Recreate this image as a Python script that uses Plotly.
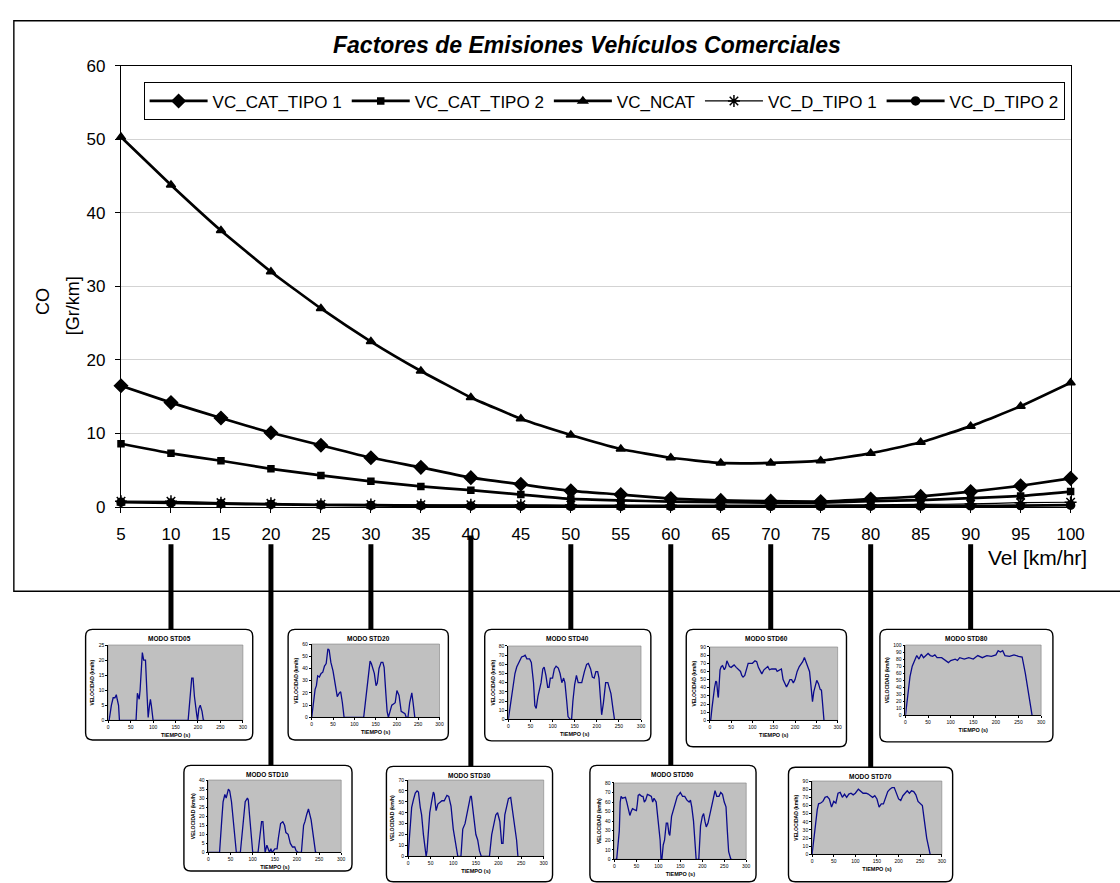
import plotly.graph_objects as go

# ---------------------------------------------------------------------------
# Emission factors (CO, g/km) by average speed
# ---------------------------------------------------------------------------
speeds = [5, 10, 15, 20, 25, 30, 35, 40, 45, 50, 55, 60, 65, 70, 75, 80, 85, 90, 95, 100]

vc_cat_tipo1 = [16.5, 14.2, 12.1, 10.1, 8.4, 6.7, 5.4, 4.0, 3.1, 2.2,
                1.7, 1.15, 0.9, 0.8, 0.75, 1.1, 1.45, 2.1, 2.9, 3.9]
vc_cat_tipo2 = [8.6, 7.3, 6.3, 5.2, 4.3, 3.5, 2.8, 2.3, 1.7, 1.1,
                0.9, 0.75, 0.65, 0.6, 0.6, 0.8, 0.95, 1.2, 1.5, 2.1]
vc_ncat = [50.3, 43.8, 37.6, 32.0, 27.0, 22.5, 18.5, 14.9, 12.0, 9.8,
           7.9, 6.7, 6.0, 6.0, 6.3, 7.3, 8.8, 11.0, 13.7, 16.9]
vc_d_tipo1 = [0.8, 0.78, 0.6, 0.5, 0.38, 0.35, 0.3, 0.3, 0.3, 0.27,
              0.25, 0.25, 0.25, 0.27, 0.28, 0.3, 0.35, 0.42, 0.6, 0.65]
vc_d_tipo2 = [0.65, 0.55, 0.45, 0.35, 0.28, 0.22, 0.18, 0.15, 0.12, 0.1,
              0.1, 0.1, 0.1, 0.1, 0.1, 0.12, 0.14, 0.16, 0.2, 0.25]

# ---------------------------------------------------------------------------
# Driving cycles (time s, speed km/h) for each test mode
# ---------------------------------------------------------------------------
std05 = [(0, 0), (2, 0), (7, 5), (11, 7.5), (15, 7.5), (18, 8.5), (20, 7), (23, 5), (25, 0),
         (62, 0), (65, 9), (69, 7), (71, 10), (73, 15), (76, 22.5), (79, 20), (83, 20), (86, 10),
         (89, 1), (92, 5), (94, 7), (96, 5), (100, 0),
         (178, 0), (181, 5), (183, 8), (186, 14), (189, 14), (192, 8), (197, 2), (199, 0),
         (202, 4), (205, 5), (209, 3), (212, 0), (215, 0)]
std10 = [(0, 0), (25, 0), (30, 18), (33, 28), (37, 32), (40, 30), (45, 35), (48, 34), (52, 28),
         (57, 15), (60, 5), (63, 0), (72, 0), (77, 12), (80, 18), (83, 28), (88, 30), (90, 29),
         (93, 20), (97, 5), (100, 0), (112, 0), (117, 12), (120, 17), (123, 17), (126, 5),
         (128, 0), (132, 4), (135, 2), (138, 0), (141, 2), (144, 0), (150, 2), (155, 2), (158, 8),
         (163, 16), (168, 17), (172, 15), (175, 11), (180, 10), (185, 5), (190, 3), (195, 3),
         (198, 1), (203, 0), (210, 0), (215, 15), (218, 17), (222, 21), (226, 24), (232, 18),
         (236, 10), (240, 3), (242, 0), (245, 0)]
std20 = [(0, 0), (4, 12), (8, 23), (11, 26), (14, 34), (18, 33), (22, 36), (26, 37), (30, 42),
         (34, 44), (38, 56), (41, 55), (45, 45), (50, 38), (54, 30), (60, 17), (65, 20), (68, 21),
         (72, 12), (76, 0), (122, 0), (127, 15), (132, 30), (137, 46), (140, 44), (144, 38),
         (147, 36), (151, 26), (154, 28), (158, 40), (163, 45), (167, 45), (170, 41), (174, 20),
         (177, 5), (180, 0), (184, 6), (188, 10), (192, 11), (196, 12), (200, 22), (205, 18),
         (210, 5), (215, 4), (219, 3), (222, 0), (226, 0), (230, 12), (235, 20), (238, 12),
         (242, 0)]
std30 = [(0, 0), (3, 20), (8, 45), (12, 52), (16, 58), (20, 60), (23, 59), (27, 45), (30, 38),
         (34, 20), (38, 5), (40, 0), (42, 5), (45, 20), (48, 40), (52, 50), (56, 59), (58, 57),
         (62, 42), (66, 48), (70, 49), (75, 51), (80, 51), (86, 56), (90, 55), (95, 46),
         (100, 25), (106, 10), (110, 0), (117, 0), (121, 25), (126, 30), (130, 38), (135, 48),
         (138, 55), (140, 55), (146, 30), (150, 20), (154, 15), (158, 5), (162, 0), (180, 0),
         (185, 20), (190, 32), (194, 38), (198, 40), (203, 32), (207, 12), (210, 12), (214, 38),
         (218, 45), (222, 53), (227, 54), (230, 45), (235, 30), (240, 15), (243, 0)]
std40 = [(0, 0), (3, 10), (7, 18), (11, 35), (15, 50), (19, 57), (22, 60), (26, 63), (30, 68),
         (35, 69), (38, 70), (42, 66), (48, 66), (52, 62), (57, 40), (60, 15), (63, 12), (67, 25),
         (71, 33), (74, 40), (78, 55), (81, 57), (85, 48), (89, 35), (92, 35), (95, 45),
         (100, 45), (104, 55), (108, 58), (113, 56), (117, 50), (121, 40), (125, 45), (128, 40),
         (132, 20), (135, 3), (140, 0), (143, 0), (146, 20), (150, 38), (154, 48), (158, 40),
         (162, 40), (166, 40), (172, 52), (177, 60), (181, 61), (186, 55), (190, 46), (194, 45),
         (198, 52), (202, 52), (205, 45), (208, 20), (211, 5), (215, 18), (220, 40), (225, 40),
         (230, 30), (232, 28), (237, 10), (240, 0)]
std50 = [(0, 0), (5, 0), (8, 15), (11, 30), (13, 60), (15, 66), (18, 64), (22, 65), (25, 65),
         (28, 60), (32, 50), (35, 46), (38, 50), (41, 53), (45, 52), (50, 51), (52, 58), (54, 67),
         (57, 68), (62, 66), (65, 66), (68, 60), (71, 62), (75, 68), (80, 67), (84, 66), (87, 60),
         (90, 64), (95, 60), (100, 40), (104, 20), (106, 0), (108, 0), (111, 15), (114, 20),
         (118, 38), (121, 38), (124, 27), (126, 25), (130, 45), (134, 52), (138, 58), (143, 66),
         (147, 68), (150, 70), (155, 66), (160, 66), (165, 62), (170, 60), (173, 62), (176, 55),
         (180, 40), (184, 10), (186, 0), (192, 0), (196, 35), (200, 45), (203, 48), (206, 40),
         (209, 34), (213, 38), (218, 48), (222, 58), (226, 66), (229, 72), (233, 66), (238, 66),
         (242, 70), (246, 68), (250, 60), (254, 55), (257, 30), (260, 8), (265, 0), (268, 0)]
std60 = [(0, 0), (2, 0), (5, 15), (8, 30), (11, 40), (14, 48), (16, 47), (19, 30), (20, 28),
         (22, 45), (24, 62), (27, 66), (30, 67), (34, 62), (37, 65), (40, 73), (43, 70), (46, 66),
         (50, 65), (53, 66), (57, 68), (62, 65), (67, 62), (72, 60), (75, 55), (78, 53), (82, 55),
         (86, 62), (90, 70), (95, 70), (100, 70), (106, 73), (110, 72), (114, 65), (118, 60),
         (122, 57), (127, 62), (132, 65), (136, 66), (140, 62), (145, 63), (150, 63), (155, 63),
         (158, 60), (163, 62), (168, 63), (172, 50), (176, 45), (180, 41), (184, 45), (188, 50),
         (192, 50), (196, 46), (200, 50), (205, 60), (210, 66), (215, 70), (218, 72), (222, 77),
         (226, 72), (230, 65), (234, 60), (236, 50), (239, 25), (241, 23), (244, 35), (248, 45),
         (251, 49), (255, 45), (259, 38), (262, 37), (265, 20), (268, 0)]
std70 = [(0, 0), (4, 20), (8, 40), (12, 55), (15, 62), (20, 63), (25, 65), (30, 70), (35, 71),
         (40, 68), (45, 58), (50, 65), (55, 63), (60, 75), (65, 76), (70, 70), (75, 74), (80, 70),
         (85, 74), (90, 75), (95, 73), (100, 75), (107, 80), (112, 78), (118, 75), (125, 75),
         (130, 74), (135, 72), (140, 70), (145, 72), (150, 68), (155, 58), (160, 62), (165, 62),
         (170, 70), (175, 77), (180, 80), (185, 82), (190, 82), (195, 75), (200, 68), (205, 66),
         (210, 72), (215, 75), (220, 78), (225, 75), (230, 78), (235, 77), (240, 73), (245, 65),
         (250, 62), (255, 60), (260, 40), (265, 20), (273, 0)]
std80 = [(0, 0), (5, 30), (10, 55), (15, 70), (20, 78), (25, 85), (30, 80), (35, 87), (40, 82),
         (45, 85), (50, 88), (55, 85), (60, 84), (65, 86), (70, 82), (80, 82), (90, 78), (95, 75),
         (100, 78), (110, 80), (115, 78), (120, 82), (130, 80), (140, 82), (150, 80), (160, 85),
         (170, 82), (180, 85), (190, 84), (200, 86), (205, 92), (210, 90), (215, 92), (220, 85),
         (230, 84), (240, 86), (250, 84), (258, 83), (265, 60), (272, 30), (280, 0)]

mode_names = ["MODO STD05", "MODO STD10", "MODO STD20", "MODO STD30", "MODO STD40",
              "MODO STD50", "MODO STD60", "MODO STD70", "MODO STD80"]
mode_cycles = [std05, std10, std20, std30, std40, std50, std60, std70, std80]
mode_speed_link = [10, 20, 30, 40, 50, 60, 70, 80, 90]
mode_ymax = [25, 40, 60, 70, 80, 80, 90, 90, 100]
mode_ystep = [5, 5, 10, 10, 10, 10, 10, 10, 10]

# ---------------------------------------------------------------------------
# Page geometry (pixels) and helpers
# ---------------------------------------------------------------------------
W, H = 1120, 883
FONT = "Liberation Sans, Arial, sans-serif"


def px(x):
    return x / W


def py(y):
    return 1 - y / H


# inset plot areas (left, right, top, bottom) and their frames
inset_plot = [(105, 242, 650, 727), (207, 342, 788, 862), (312, 442, 649, 724),
              (410, 548, 788, 866), (512, 647, 651, 726), (620, 754, 791, 869),
              (717, 847, 652, 727), (821, 953, 789, 864), (916, 1054, 650, 722)]
inset_frame = [(82, 252, 634, 747), (182, 353, 773, 881), (288, 451, 634, 747),
               (388, 557, 774, 892), (488, 657, 634, 748), (595, 764, 773, 892),
               (693, 856, 634, 754), (797, 964, 775, 892), (890, 1066, 634, 749)]

fig = go.Figure()

# main series
series = [
    ("VC_CAT_TIPO 1", vc_cat_tipo1, "diamond", 10, 2.7),
    ("VC_CAT_TIPO 2", vc_cat_tipo2, "square", 6, 2.7),
    ("VC_NCAT", vc_ncat, "triangle-up", 8, 2.7),
    ("VC_D_TIPO 1", vc_d_tipo1, "asterisk-open", 10, 1.2),
    ("VC_D_TIPO 2", vc_d_tipo2, "circle", 8, 2.7),
]
for name, vals, sym, size, lw in series:
    fig.add_trace(go.Scatter(
        x=speeds, y=vals, name=name, mode="lines+markers",
        line=dict(color="black", width=lw, shape="spline", smoothing=0.4),
        marker=dict(symbol=sym, size=size, color="black",
                    line=dict(color="black", width=1.5)),
        cliponaxis=False, hoverinfo="skip",
    ))

layout = dict(
    width=W, height=H,
    margin=dict(l=0, r=0, t=0, b=0),
    paper_bgcolor="white",
    plot_bgcolor="rgba(0,0,0,0)",
    font=dict(family=FONT, color="black", size=16),
    showlegend=True,
    legend=dict(
        orientation="h", x=px(141), y=py(75), xanchor="left", yanchor="top",
        bordercolor="black", borderwidth=1, bgcolor="white",
        font=dict(size=17, family=FONT), itemwidth=58,
        tracegroupgap=0, itemsizing="trace",
    ),
    xaxis=dict(
        domain=[px(118), px(1084)], range=[5, 100], anchor="y",
        tickmode="array", tickvals=speeds, ticks="outside", ticklen=5,
        tickcolor="black", showline=True, linecolor="black", linewidth=1.3,
        mirror=True, showgrid=False, zeroline=False,
        tickfont=dict(size=17), ticklabelstandoff=6,
    ),
    yaxis=dict(
        domain=[py(509), py(58)], range=[0, 60], anchor="x",
        tickmode="linear", tick0=0, dtick=10, ticks="outside", ticklen=5,
        tickcolor="black", showline=True, linecolor="black", linewidth=1.3,
        mirror=True, showgrid=True, gridcolor="#d3d3d3", gridwidth=1,
        zeroline=False, tickfont=dict(size=17), ticklabelstandoff=6,
    ),
)

shapes = []
annotations = []

# outer chart frame (open to the right)
shapes.append(dict(type="rect", xref="paper", yref="paper",
                   x0=px(9), x1=1.02, y0=py(595), y1=py(12),
                   line=dict(color="black", width=1.4), layer="below"))


def rounded_path(x0, x1, top, bottom, r=7):
    rx, ry = r / W, r / H
    a, b = px(x0), px(x1)
    t, btm = py(top), py(bottom)
    return (f"M{a+rx},{t} L{b-rx},{t} Q{b},{t} {b},{t-ry} L{b},{btm+ry} "
            f"Q{b},{btm} {b-rx},{btm} L{a+rx},{btm} Q{a},{btm} {a},{btm+ry} "
            f"L{a},{t-ry} Q{a},{t} {a+rx},{t} Z")


def label(text, x, y, size, angle=0):
    return dict(text=text, xref="paper", yref="paper", x=px(x), y=py(y),
                xanchor="center", yanchor="middle", showarrow=False,
                textangle=angle, font=dict(size=size, family=FONT))


tick_font = dict(size=5, family=FONT, color="black")

for i, (name, cyc) in enumerate(zip(mode_names, mode_cycles)):
    k = i + 2
    l, r, t, b = inset_plot[i]
    fl, fr, ft, fb = inset_frame[i]
    tt = [p[0] for p in cyc]
    vv = [p[1] for p in cyc]

    fig.add_trace(go.Scatter(
        x=tt, y=vv, xaxis=f"x{k}", yaxis=f"y{k}", mode="lines",
        line=dict(color="#0a0a8c", width=1.3), showlegend=False, hoverinfo="skip",
    ))
    layout[f"xaxis{k}"] = dict(
        domain=[px(l), px(r)], anchor=f"y{k}", range=[0, 300],
        tickmode="linear", tick0=0, dtick=50, ticks="outside", ticklen=2,
        tickcolor="black", showline=True, linecolor="black", linewidth=0.8,
        showgrid=False, zeroline=False, tickfont=tick_font,
        title=dict(text="<b>TIEMPO (s)</b>", font=dict(size=5.5, family=FONT),
                   standoff=3),
    )
    layout[f"yaxis{k}"] = dict(
        domain=[py(b), py(t)], anchor=f"x{k}", range=[0, mode_ymax[i]],
        tickmode="linear", tick0=0, dtick=mode_ystep[i], ticks="outside",
        ticklen=2, tickcolor="black", showline=True, linecolor="black",
        linewidth=0.8, showgrid=False, zeroline=False, tickfont=tick_font,
        title=dict(text="<b>VELOCIDAD (km/h)</b>", font=dict(size=5, family=FONT),
                   standoff=3),
    )

    # white rounded frame of the inset
    shapes.append(dict(type="path", xref="paper", yref="paper",
                       path=rounded_path(fl, fr, ft, fb),
                       fillcolor="white", line=dict(color="black", width=1.4),
                       layer="below"))
    # grey plot area
    shapes.append(dict(type="rect", xref=f"x{k} domain", yref=f"y{k} domain",
                       x0=0, x1=1, y0=0, y1=1, fillcolor="#c0c0c0",
                       line=dict(color="#808080", width=0.6), layer="below"))
    # link from the speed axis to the inset
    start = 538 if mode_speed_link[i] == 40 else 547
    shapes.append(dict(type="line", xref="x", yref="paper",
                       x0=mode_speed_link[i], x1=mode_speed_link[i],
                       y0=py(start), y1=py(ft),
                       line=dict(color="black", width=5)))
    annotations.append(label(f"<b>{name}</b>", (fl + fr) / 2, ft + 9, 6.5))

annotations += [
    label("<b><i>Factores de Emisiones Vehículos Comerciales</i></b>", 592, 37, 23),
    label("Vel [km/hr]", 1050, 561, 21),
    label("CO", 38, 299, 18, -90),
    label("[Gr/km]", 70, 303, 18, -90),
]

layout["shapes"] = shapes
layout["annotations"] = annotations
fig.update_layout(**layout)

fig.write_html("out.html")
